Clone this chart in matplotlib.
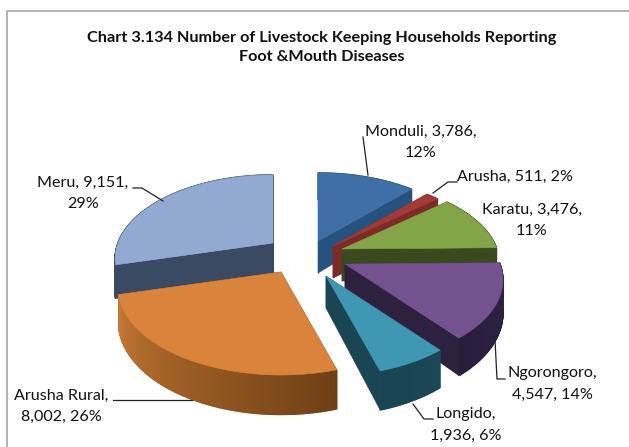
import numpy as np
import matplotlib
matplotlib.use("Agg")
import matplotlib.pyplot as plt
from matplotlib.patches import Polygon
from matplotlib.colors import to_rgb

names = ["Monduli", "Arusha", "Karatu", "Ngorongoro", "Longido", "Arusha Rural", "Meru"]
values = [3786, 511, 3476, 4547, 1936, 8002, 9151]
percents = [12, 2, 11, 14, 6, 26, 29]
title = "Chart 3.134 Number of Livestock Keeping Households Reporting\nFoot &Mouth Diseases"

# style / geometry
top_cols = ["#3F6FA6", "#A23B36", "#84A448", "#73528F", "#3E97B3", "#D9843A", "#92A9D1"]
cut_cols = ["#25527F", "#7E2A28", "#3A4A1E", "#2E2140", "#1A4552", "#6E4014", "#3A4A62"]
wall_a = ["#25527F", "#7E2A28", "#3A4A1E", "#32234A", "#1B4856", "#6E4014", "#3A4A62"]
wall_b = ["#25527F", "#7E2A28", "#3A4A1E", "#2A1D3C", "#1A4552", "#C77A35", "#3A4A62"]
apex = [(318, 241), (333, 246), (342, 249), (345, 264), (326, 276), (281, 272), (273, 243)]
size = [1, 1, 1, 1, 1, 1.03, 1]
RX, RY, PERSP, DEPTH = 155, 81, 0.19, 32
draw_order = [0, 1, 2, 6, 3, 5, 4]

FONT = "Lato"
fig = plt.figure(figsize=(6.29, 4.47), dpi=100)
ax = fig.add_axes([0, 0, 1, 1])
ax.set_xlim(0, 629)
ax.set_ylim(447, 0)
ax.axis("off")

# frame
ax.plot([7, 7, 629], [447, 10.5, 10.5], color="#A6A6A6", lw=1.2)


def project(theta, s=1.0, drop=0.0, center=(0, 0)):
    t = np.radians(theta)
    f = 1 / (1 + PERSP * np.cos(t))
    x = center[0] + s * RX * np.sin(t) * f
    y = center[1] - s * RY * np.cos(t) * f + drop * f
    return x, y


cum = np.concatenate([[0], np.cumsum(values)]) / sum(values) * 360

for i in draw_order:
    a0, a1 = cum[i], cum[i + 1]
    c = apex[i]
    s = size[i]
    thetas = np.linspace(a0, a1, max(int(a1 - a0) * 2, 6))
    # cut faces
    for a in (a0, a1):
        p1 = project(a, s, center=c)
        p2 = project(a, s, drop=DEPTH, center=c)
        q2 = (c[0], c[1] + DEPTH)
        ax.add_patch(Polygon([c, p1, p2, q2], closed=True, fc=cut_cols[i], ec=cut_cols[i], lw=0.4))
    # outer wall with shading
    ca, cb = np.array(to_rgb(wall_a[i])), np.array(to_rgb(wall_b[i]))
    for k in range(len(thetas) - 1):
        t0, t1 = thetas[k], thetas[k + 1]
        col = ca + (cb - ca) * (k / (len(thetas) - 2))
        quad = [project(t0, s, center=c), project(t1, s, center=c),
                project(t1, s, drop=DEPTH, center=c), project(t0, s, drop=DEPTH, center=c)]
        ax.add_patch(Polygon(quad, closed=True, fc=col, ec=col, lw=1.0))
    # top face
    pts = [c] + [project(t, s, center=c) for t in thetas]
    ax.add_patch(Polygon(pts, closed=True, fc=top_cols[i], ec=top_cols[i], lw=0.4))


def label(i, brk):
    if brk == 0:
        return f"{names[i]}, {values[i]:,}, {percents[i]}%"
    if brk == 1:
        return f"{names[i]}, {values[i]:,},\n{percents[i]}%"
    return f"{names[i]},\n{values[i]:,}, {percents[i]}%"


label_spec = [(0, 1, 421, 142), (1, 0, 515, 177), (2, 1, 532, 220), (3, 2, 552, 384),
              (4, 2, 466, 425), (5, 2, 61, 406), (6, 1, 83, 193)]
for i, brk, x, y in label_spec:
    ax.text(x, y, label(i, brk), ha="center", va="center", family=FONT, fontsize=11.6,
            color="#111111", linespacing=1.65)

leaders = [
    ([363, 368], [137, 175]),
    ([457, 448, 433], [182, 182, 193]),
    ([133, 142, 163], [188, 188, 201]),
    ([113, 192], [400, 400]),
    ([505, 497, 495], [379, 379, 340]),
    ([433, 424, 413], [419, 419, 404]),
]
for xs, ys in leaders:
    ax.plot(xs, ys, color="#222222", lw=0.9)

ax.text(322, 47.5, title, ha="center", va="center", family=FONT, fontsize=11.7, fontweight="bold",
        color="#111111", linespacing=1.48)

fig.savefig("out.png", dpi=100)
